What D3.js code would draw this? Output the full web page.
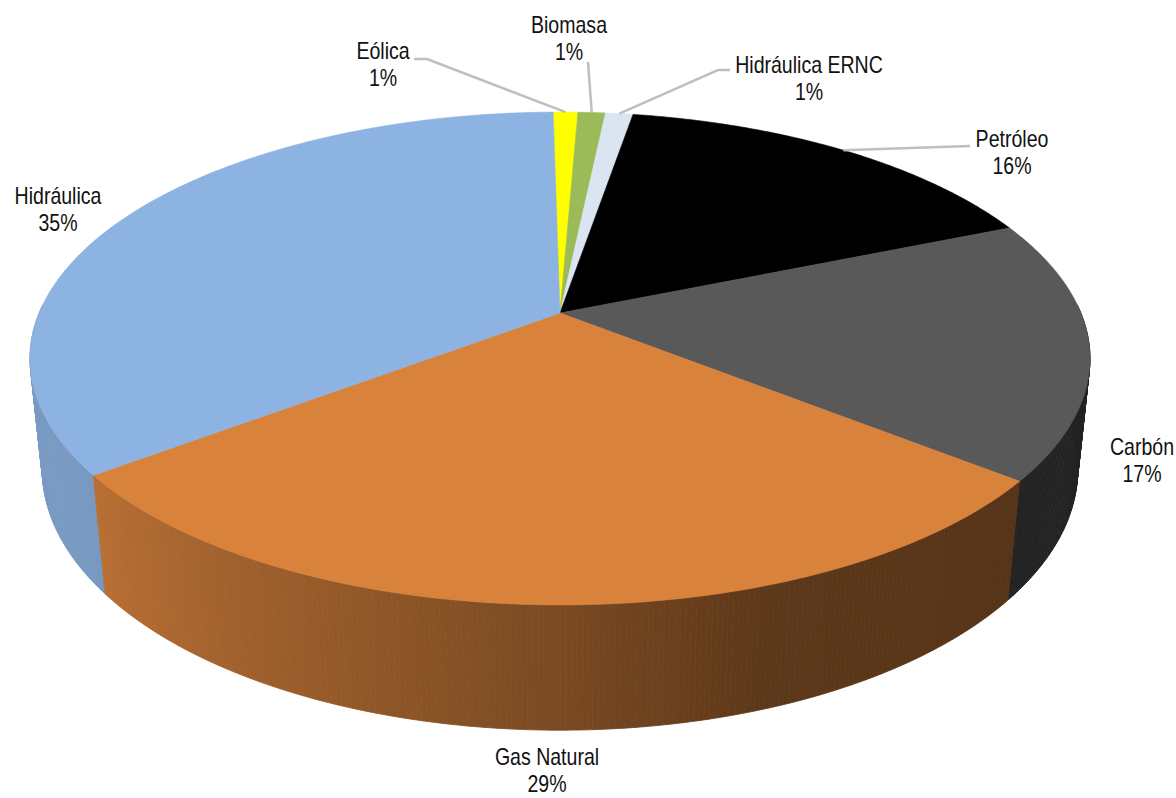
<!DOCTYPE html>
<html><head><meta charset="utf-8">
<script src="https://cdn.jsdelivr.net/npm/d3@7"></script>
<style>body{margin:0;background:#fff} svg{display:block}</style>
</head><body>
<svg id="chart" width="1176" height="798"></svg>
<script>
// ---------- data ----------
const categories = ["Eólica", "Biomasa", "Hidráulica ERNC", "Petróleo", "Carbón", "Gas Natural", "Hidráulica"];
const values = [0.9, 1.0, 1.0, 16.1, 17.0, 28.9, 35.1];
const colors = ["#FFFF00", "#9BBB59", "#DBE5F1", "#000000", "#595959", "#D8823C", "#8DB3E2"];

// ---------- layout (not data) ----------
const cx = 560, cy = 313;
const F = 2509, dist = 4.817, sinP = 0.457, cosP = Math.sqrt(1 - sinP * sinP), thick = 0.241;
const startDeg = -0.9;
const rad = Math.PI / 180;
const fontSize = 23, lineGap = 27, squeeze = 0.85;
const labelLayout = {
  "Eólica": [383, 59],
  "Biomasa": [569, 33],
  "Hidráulica ERNC": [809, 73],
  "Petróleo": [1012, 147],
  "Carbón": [1142, 455],
  "Gas Natural": [547, 765],
  "Hidráulica": [58, 204]
};
const leaderLayout = {
  "Eólica": [[414, 59], [427, 59]],
  "Biomasa": [[588, 62]],
  "Hidráulica ERNC": [[730, 70], [718, 70]],
  "Petróleo": [[970, 146]]
};

const svg = d3.select("#chart");

function projXYZ(x, y, z) {
  const depth = dist + z * cosP - y * sinP;
  return [cx + F * x / depth, cy - F * (y * cosP + z * sinP) / depth];
}
function proj(theta, level) {
  return projXYZ(Math.sin(theta), -thick * level, Math.cos(theta));
}

const pie = d3.pie().sort(null).value(d => d)
  .startAngle(startDeg * rad).endAngle(startDeg * rad + 2 * Math.PI);
const arcs = pie(values).map((a, i) => ({...a, cat: categories[i], color: colors[i]}));

const shade = d3.scaleLinear()
  .domain([90, 131, 161, 180, 195, 232, 270])
  .range([0.38, 0.40, 0.43, 0.565, 0.655, 0.85, 0.88])
  .clamp(true);
function shadeColor(base, deg) {
  const c = d3.rgb(base), k = shade(deg);
  return d3.rgb(c.r * k, c.g * k, c.b * k).formatHex();
}

const line = d3.line();

// ---------- side walls ----------
const segs = [];
const step = 0.5 * rad;
arcs.forEach(a => {
  const lo = Math.max(a.startAngle, 88 * rad), hi = Math.min(a.endAngle, 272 * rad);
  if (hi <= lo) return;
  const n = Math.max(1, Math.ceil((hi - lo) / step));
  for (let k = 0; k < n; k++) {
    const t1 = lo + (hi - lo) * k / n, t2 = lo + (hi - lo) * (k + 1) / n;
    const mid = (t1 + t2) / 2;
    segs.push({t1, t2, mid, color: shadeColor(a.color, mid / rad)});
  }
});
segs.sort((p, q) => Math.cos(q.mid) - Math.cos(p.mid));
svg.append("g").selectAll("path").data(segs).join("path")
  .attr("d", s => line([proj(s.t1, 0), proj(s.t2, 0), proj(s.t2, 1), proj(s.t1, 1)]) + "Z")
  .attr("fill", s => s.color)
  .attr("stroke", s => s.color)
  .attr("stroke-width", 0.8);

// ---------- top faces ----------
function topPath(a) {
  const pts = [projXYZ(0, 0, 0)];
  const n = Math.max(2, Math.ceil((a.endAngle - a.startAngle) / step));
  for (let k = 0; k <= n; k++) {
    const t = a.startAngle + (a.endAngle - a.startAngle) * k / n;
    pts.push(proj(t, 0));
  }
  return line(pts) + "Z";
}
svg.append("g").selectAll("path").data(arcs).join("path")
  .attr("d", topPath)
  .attr("fill", a => a.color)
  .attr("stroke", a => a.color)
  .attr("stroke-width", 0.6)
  .attr("stroke-linejoin", "round");

// ---------- leader lines ----------
svg.append("g").selectAll("path").data(arcs.filter(a => leaderLayout[a.cat])).join("path")
  .attr("d", a => {
    const mid = (a.startAngle + a.endAngle) / 2;
    return line([...leaderLayout[a.cat], proj(mid, 0)]);
  })
  .attr("fill", "none")
  .attr("stroke", "#BFBFBF")
  .attr("stroke-width", 2.5);

// ---------- labels ----------
const fmt = d3.format(".0%");
const total = d3.sum(values);
const lg = svg.append("g")
  .attr("font-family", "'Liberation Sans', Arial, sans-serif")
  .attr("font-size", fontSize)
  .attr("fill", "#111")
  .attr("text-anchor", "middle");
arcs.forEach(a => {
  const [x, y] = labelLayout[a.cat];
  const g = lg.append("g").attr("transform", `translate(${x},${y}) scale(${squeeze},1)`);
  g.append("text").attr("x", 0).attr("y", 0).text(a.cat);
  g.append("text").attr("x", 0).attr("y", lineGap).text(fmt(a.value / total));
});
</script>
</body></html>
